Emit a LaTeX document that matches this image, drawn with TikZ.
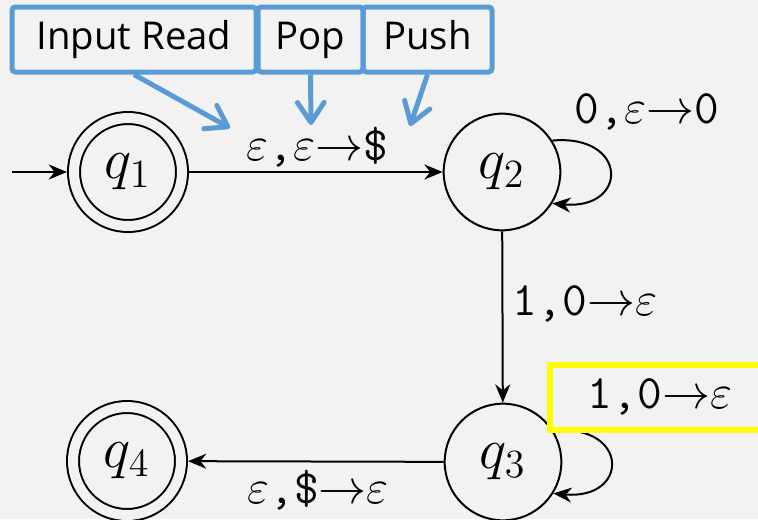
\documentclass[tikz,border=0pt]{standalone}
\usepackage{amsmath}
\usepackage{amssymb}
\usepackage{fontspec}
\newfontfamily\calloutfont{Open Sans}
\usetikzlibrary{arrows.meta}
\definecolor{bgray}{HTML}{F2F2F2}
\definecolor{callblue}{HTML}{5B9BD5}
\definecolor{hlyellow}{HTML}{FFFF00}

\tikzset{
  stnode/.style={circle,draw,line width=0.6pt,minimum size=35pt,inner sep=0pt,font=\LARGE},
  accept/.style={stnode,minimum size=32.4pt,double=bgray,double distance=3pt,outer sep=2.1pt},
  trans/.style={line width=0.6pt,-{Stealth[length=5.5pt,width=4.5pt]}},
  lab/.style={font=\Large\ttfamily,inner sep=1pt},
  callout/.style={draw=callblue,line width=1.5pt,rounded corners=1pt,
    font=\calloutfont\fontsize{11.5}{13}\selectfont,minimum height=19.5pt,inner sep=0pt,
    text height=8.6pt,text depth=2.6pt},
  pointer/.style={callblue,line width=1.5pt,-{Straight Barb[length=6pt,width=8pt,round]}}
}

\begin{document}
\begin{tikzpicture}[x=0.3pt,y=-0.3pt]
\fill[bgray] (0,0) rectangle (758,519);
\useasboundingbox (0,0) rectangle (758,519);

% states
\node[accept] (q1) at (128,172) {$q_1$};
\node[stnode] (q2) at (502,172) {$q_2$};
\node[stnode] (q3) at (503,462) {$q_3$};
\node[accept] (q4) at (127,461) {$q_4$};
\coordinate (start) at (12,172);

% transitions
\draw[trans] (start) -- (q1);
\draw[trans] (q1) -- (q2);
\draw[trans] (q2) -- (q3);
\draw[trans] (q3) -- (q4);
\draw[trans] (q2.32) .. controls +(5:23pt) and +(-5:23pt) .. (q2.-32);
\draw[trans] (q3.32) .. controls +(5:23pt) and +(-5:23pt) .. (q3.-32);

% labels
\node[lab] (l12) at (317,147) {$\varepsilon$,$\varepsilon{\rightarrow}$\$};
\node[lab] (l22) at (647,112) {0,$\varepsilon{\rightarrow}$0};
\node[lab] (l23) at (585,304) {1,0${\rightarrow}\varepsilon$};
\node[lab] (l34) at (318,490) {$\varepsilon$,\$${\rightarrow}\varepsilon$};
\node[lab,draw=hlyellow,line width=1.8pt,minimum width=66pt,minimum height=19.5pt]
  (l33) at (660,397) {1,0${\rightarrow}\varepsilon$};

% callouts
\node[callout,minimum width=73.2pt] (inread) at (134,39.5) {Input Read};
\node[callout,minimum width=31.5pt] (pop) at (310.5,39.5) {Pop};
\node[callout,minimum width=38.7pt] (push) at (427.5,39.5) {Push};
\coordinate (pin1) at (230,128);
\coordinate (pin2) at (311,125);
\coordinate (pin3) at (410,126);
\draw[pointer] (inread.south) -- (pin1);
\draw[pointer] (pop.south) -- (pin2);
\draw[pointer] (push.south) -- (pin3);
\end{tikzpicture}
\end{document}
